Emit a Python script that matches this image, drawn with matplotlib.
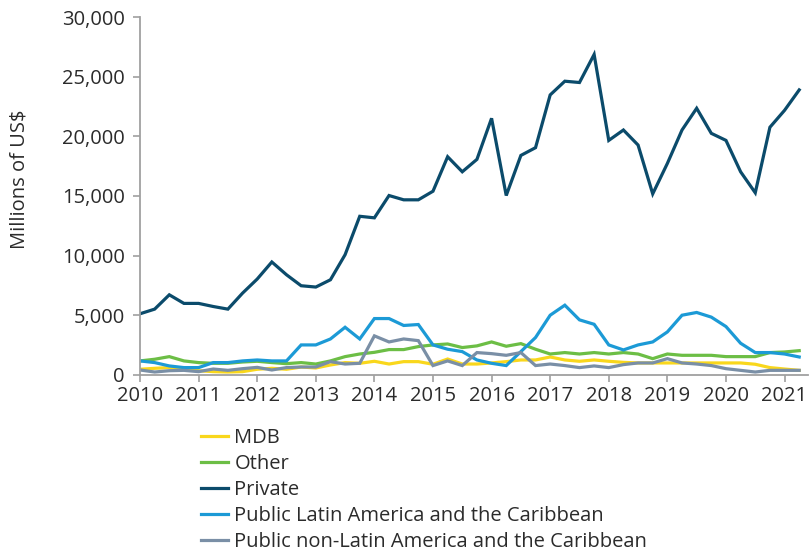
import matplotlib
matplotlib.use("Agg")
import matplotlib.pyplot as plt
from matplotlib.ticker import FuncFormatter

# quarterly, 2010Q1 .. 2021Q2
quarters = [2010 + q / 4 for q in range(46)]

mdb = [480, 560, 620, 530, 360, 280, 250, 280, 480, 560, 480, 670, 590, 840, 1040, 980,
       1150, 920, 1120, 1120, 900, 1340, 920, 920, 1010, 1120, 1260, 1260, 1510, 1260, 1150, 1260,
       1150, 1060, 1010, 1010, 1010, 1010, 1010, 1010, 1010, 1010, 900, 620, 500, 390]
other = [1180, 1320, 1540, 1180, 1040, 980, 980, 1090, 1150, 1040, 950, 1040, 920, 1180, 1540, 1760,
         1900, 2130, 2130, 2380, 2520, 2600, 2300, 2440, 2770, 2410, 2630, 2160, 1760, 1880, 1760, 1880,
         1760, 1880, 1760, 1370, 1760, 1650, 1650, 1650, 1540, 1540, 1540, 1880, 1930, 2040]
private = [5130, 5520, 6720, 6000, 6000, 5740, 5520, 6860, 8040, 9470, 8400, 7480, 7370, 7980, 10080, 13300,
           13170, 15040, 14680, 14680, 15400, 18290, 17030, 18070, 21510, 15040, 18400, 19050, 23470, 24620, 24510, 26860,
           19660, 20530, 19270, 15180, 17730, 20530, 22350, 20250, 19660, 17030, 15270, 20760, 22180, 23890]
public_lac = [1180, 1040, 760, 620, 620, 1040, 1040, 1180, 1260, 1180, 1180, 2520, 2520, 3020, 4000, 3020,
              4730, 4730, 4150, 4230, 2520, 2160, 1960, 1260, 980, 790, 1960, 3140, 5010, 5850, 4620, 4250,
              2520, 2100, 2520, 2770, 3610, 5010, 5240, 4850, 4060, 2660, 1880, 1880, 1760, 1510]
public_non_lac = [420, 250, 360, 390, 280, 500, 390, 530, 640, 420, 620, 670, 670, 1120, 920, 980,
                  3280, 2770, 3020, 2880, 790, 1180, 790, 1880, 1790, 1650, 1880, 790, 920, 790, 620, 760,
                  620, 870, 1010, 1010, 1370, 1010, 920, 790, 530, 390, 250, 390, 390, 390]

series = [
    ("MDB", mdb, "#F9D71C"),
    ("Other", other, "#6CBE45"),
    ("Private", private, "#0B4B6B"),
    ("Public Latin America and the Caribbean", public_lac, "#1C9AD6"),
    ("Public non-Latin America and the Caribbean", public_non_lac, "#7A8FA6"),
]
years = list(range(2010, 2022))

TEXT = "#2B2B2B"
AXIS = "#A0A0A0"
FS = 14.5

plt.rcParams["font.family"] = ["Open Sans", "DejaVu Sans"]

fig = plt.figure(figsize=(8.12, 5.53), dpi=100)
ax = fig.add_axes([140 / 812, 1 - 375 / 553, 668 / 812, 358 / 553])

for label, vals, color in series:
    ax.plot(quarters, vals, color=color, lw=2.3, label=label, solid_joinstyle="miter")

ax.set_xlim(2010, 2021.4)
ax.set_ylim(0, 30000)
ax.set_xticks(years)
ax.set_yticks(range(0, 30001, 5000))
ax.yaxis.set_major_formatter(FuncFormatter(lambda v, p: f"{int(v):,}"))

for side in ("top", "right"):
    ax.spines[side].set_visible(False)
for side in ("left", "bottom"):
    ax.spines[side].set_color(AXIS)
    ax.spines[side].set_linewidth(1.3)
ax.tick_params(axis="both", color=AXIS, length=5, width=1.2, labelsize=FS)
ax.tick_params(axis="both", labelcolor=TEXT)
ax.tick_params(axis="x", pad=3)
ax.tick_params(axis="y", pad=6)

ax.set_ylabel("Millions of US$", fontsize=FS, color=TEXT)
ax.yaxis.set_label_coords(-0.165, 0.547)

fig.legend(loc="upper left", bbox_to_anchor=(191 / 812, 1 - 418 / 553), frameon=False,
           fontsize=FS, handlelength=1.35, handletextpad=0.3, labelspacing=0.3,
           borderpad=0, labelcolor=TEXT)

fig.savefig("out.png", dpi=100)
